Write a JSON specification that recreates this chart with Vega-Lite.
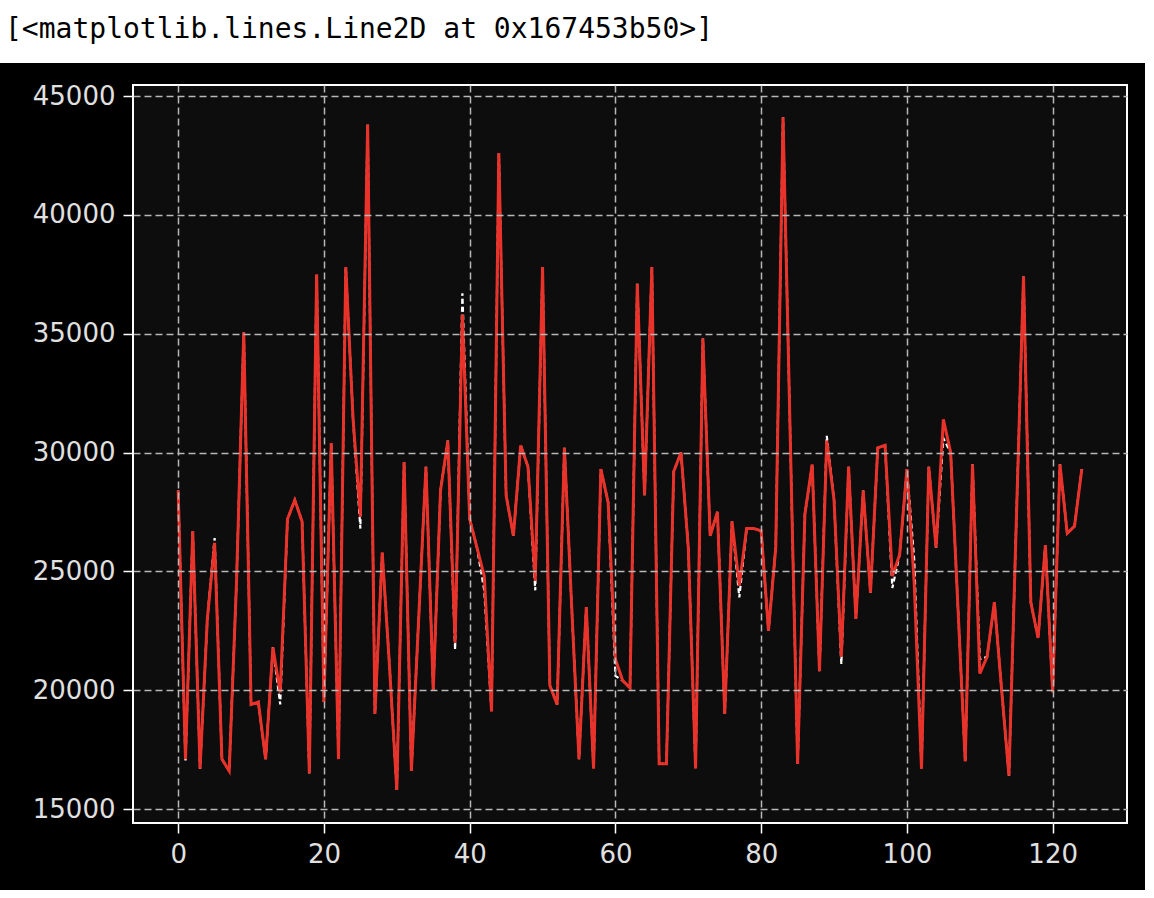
{
  "$schema": "https://vega.github.io/schema/vega-lite/v6.json",
  "autosize": {"type": "none"},
  "width": 994,
  "height": 738,
  "padding": {"left": 133, "top": 85, "right": 27, "bottom": 75},
  "background": "white",
  "title": {
    "text": "[<matplotlib.lines.Line2D at 0x167453b50>]",
    "anchor": "start",
    "frame": "group",
    "dx": -128,
    "offset": -9,
    "baseline": "bottom",
    "font": "DejaVu Sans Mono",
    "fontSize": 28,
    "fontWeight": "normal",
    "color": "black"
  },
  "config": {
    "view": {"stroke": null},
    "axis": {
      "domain": false,
      "grid": true,
      "gridColor": "#b8b8b8",
      "gridDash": [7, 4],
      "gridWidth": 1.5,
      "gridOpacity": 1,
      "tickColor": "white",
      "tickWidth": 1.5,
      "tickSize": 10,
      "labelColor": "#e0e0e0",
      "labelFont": "DejaVu Sans",
      "labelFontSize": 26,
      "labelPadding": 8
    }
  },
  "data": {
    "values": [
      {"i": 0, "actual": 28400, "pred": 28400},
      {"i": 1, "actual": 17000, "pred": 17100},
      {"i": 2, "actual": 26700, "pred": 26700},
      {"i": 3, "actual": 16700, "pred": 16700},
      {"i": 4, "actual": 23000, "pred": 23000},
      {"i": 5, "actual": 26400, "pred": 26200},
      {"i": 6, "actual": 17100, "pred": 17100},
      {"i": 7, "actual": 16600, "pred": 16600},
      {"i": 8, "actual": 24500, "pred": 24500},
      {"i": 9, "actual": 35050, "pred": 35050},
      {"i": 10, "actual": 19400, "pred": 19400},
      {"i": 11, "actual": 19500, "pred": 19500},
      {"i": 12, "actual": 17100, "pred": 17100},
      {"i": 13, "actual": 21800, "pred": 21800},
      {"i": 14, "actual": 19400, "pred": 19900},
      {"i": 15, "actual": 27200, "pred": 27200},
      {"i": 16, "actual": 28000, "pred": 28000},
      {"i": 17, "actual": 27100, "pred": 27100},
      {"i": 18, "actual": 16500, "pred": 16500},
      {"i": 19, "actual": 37500, "pred": 37500},
      {"i": 20, "actual": 19500, "pred": 19500},
      {"i": 21, "actual": 30400, "pred": 30400},
      {"i": 22, "actual": 17100, "pred": 17100},
      {"i": 23, "actual": 37800, "pred": 37800},
      {"i": 24, "actual": 31400, "pred": 31400},
      {"i": 25, "actual": 26800, "pred": 27300},
      {"i": 26, "actual": 43800, "pred": 43800},
      {"i": 27, "actual": 19000, "pred": 19000},
      {"i": 28, "actual": 25800, "pred": 25800},
      {"i": 29, "actual": 21000, "pred": 21000},
      {"i": 30, "actual": 15800, "pred": 15800},
      {"i": 31, "actual": 29600, "pred": 29600},
      {"i": 32, "actual": 16600, "pred": 16600},
      {"i": 33, "actual": 23000, "pred": 23000},
      {"i": 34, "actual": 29400, "pred": 29400},
      {"i": 35, "actual": 20000, "pred": 20000},
      {"i": 36, "actual": 28400, "pred": 28400},
      {"i": 37, "actual": 30500, "pred": 30500},
      {"i": 38, "actual": 21700, "pred": 22000},
      {"i": 39, "actual": 36700, "pred": 35800},
      {"i": 40, "actual": 27200, "pred": 27200},
      {"i": 41, "actual": 26000, "pred": 26000},
      {"i": 42, "actual": 24200, "pred": 24800},
      {"i": 43, "actual": 19100, "pred": 19100},
      {"i": 44, "actual": 42600, "pred": 42600},
      {"i": 45, "actual": 28200, "pred": 28200},
      {"i": 46, "actual": 26500, "pred": 26500},
      {"i": 47, "actual": 30300, "pred": 30300},
      {"i": 48, "actual": 29400, "pred": 29400},
      {"i": 49, "actual": 24200, "pred": 24600},
      {"i": 50, "actual": 37800, "pred": 37800},
      {"i": 51, "actual": 20200, "pred": 20200},
      {"i": 52, "actual": 19400, "pred": 19400},
      {"i": 53, "actual": 30200, "pred": 30200},
      {"i": 54, "actual": 23500, "pred": 23500},
      {"i": 55, "actual": 17100, "pred": 17100},
      {"i": 56, "actual": 23500, "pred": 23500},
      {"i": 57, "actual": 16700, "pred": 16700},
      {"i": 58, "actual": 29300, "pred": 29300},
      {"i": 59, "actual": 27900, "pred": 27900},
      {"i": 60, "actual": 20600, "pred": 21300},
      {"i": 61, "actual": 20400, "pred": 20400},
      {"i": 62, "actual": 20100, "pred": 20100},
      {"i": 63, "actual": 37100, "pred": 37100},
      {"i": 64, "actual": 28200, "pred": 28200},
      {"i": 65, "actual": 37800, "pred": 37800},
      {"i": 66, "actual": 16900, "pred": 16900},
      {"i": 67, "actual": 16900, "pred": 16900},
      {"i": 68, "actual": 29200, "pred": 29200},
      {"i": 69, "actual": 30000, "pred": 30000},
      {"i": 70, "actual": 26000, "pred": 26000},
      {"i": 71, "actual": 16700, "pred": 16700},
      {"i": 72, "actual": 34800, "pred": 34800},
      {"i": 73, "actual": 26500, "pred": 26500},
      {"i": 74, "actual": 27500, "pred": 27500},
      {"i": 75, "actual": 19000, "pred": 19000},
      {"i": 76, "actual": 27100, "pred": 27100},
      {"i": 77, "actual": 23900, "pred": 24400},
      {"i": 78, "actual": 26800, "pred": 26800},
      {"i": 79, "actual": 26800, "pred": 26800},
      {"i": 80, "actual": 26700, "pred": 26700},
      {"i": 81, "actual": 22500, "pred": 22500},
      {"i": 82, "actual": 26000, "pred": 26000},
      {"i": 83, "actual": 44100, "pred": 44100},
      {"i": 84, "actual": 30500, "pred": 30500},
      {"i": 85, "actual": 16900, "pred": 16900},
      {"i": 86, "actual": 27400, "pred": 27400},
      {"i": 87, "actual": 29500, "pred": 29500},
      {"i": 88, "actual": 20800, "pred": 20800},
      {"i": 89, "actual": 30700, "pred": 30500},
      {"i": 90, "actual": 28000, "pred": 28000},
      {"i": 91, "actual": 21100, "pred": 21400},
      {"i": 92, "actual": 29400, "pred": 29400},
      {"i": 93, "actual": 23000, "pred": 23000},
      {"i": 94, "actual": 28400, "pred": 28400},
      {"i": 95, "actual": 24100, "pred": 24100},
      {"i": 96, "actual": 30200, "pred": 30200},
      {"i": 97, "actual": 30300, "pred": 30300},
      {"i": 98, "actual": 24300, "pred": 24800},
      {"i": 99, "actual": 25700, "pred": 25700},
      {"i": 100, "actual": 29300, "pred": 29300},
      {"i": 101, "actual": 25500, "pred": 24500},
      {"i": 102, "actual": 16700, "pred": 16700},
      {"i": 103, "actual": 29400, "pred": 29400},
      {"i": 104, "actual": 26000, "pred": 26000},
      {"i": 105, "actual": 30600, "pred": 31400},
      {"i": 106, "actual": 30000, "pred": 30000},
      {"i": 107, "actual": 23500, "pred": 23500},
      {"i": 108, "actual": 17000, "pred": 17000},
      {"i": 109, "actual": 29500, "pred": 29500},
      {"i": 110, "actual": 21300, "pred": 20700},
      {"i": 111, "actual": 21400, "pred": 21400},
      {"i": 112, "actual": 23700, "pred": 23700},
      {"i": 113, "actual": 20000, "pred": 20000},
      {"i": 114, "actual": 16400, "pred": 16400},
      {"i": 115, "actual": 27000, "pred": 27000},
      {"i": 116, "actual": 37400, "pred": 37400},
      {"i": 117, "actual": 23700, "pred": 23700},
      {"i": 118, "actual": 22200, "pred": 22200},
      {"i": 119, "actual": 26100, "pred": 26100},
      {"i": 120, "actual": 19900, "pred": 19900},
      {"i": 121, "actual": 29500, "pred": 29500},
      {"i": 122, "actual": 26600, "pred": 26600},
      {"i": 123, "actual": 26900, "pred": 26900},
      {"i": 124, "actual": 29300, "pred": 29300}
    ]
  },
  "layer": [
    {
      "data": {"values": [{}]},
      "mark": {"type": "rect", "fill": "black", "clip": false},
      "encoding": {
        "x": {"datum": -24.45, "type": "quantitative"},
        "x2": {"datum": 132.67},
        "y": {"datum": 46389, "type": "quantitative"},
        "y2": {"datum": 11592}
      }
    },
    {
      "data": {"values": [{}]},
      "mark": {"type": "rect", "fill": "#0d0d0d", "stroke": "white", "strokeWidth": 2, "clip": false},
      "encoding": {
        "x": {"datum": -6.2, "type": "quantitative"},
        "x2": {"datum": 130.2},
        "y": {"datum": 45463, "type": "quantitative"},
        "y2": {"datum": 14411}
      }
    },
    {
      "mark": {"type": "line", "color": "white", "strokeWidth": 2.2, "strokeDash": [5, 3]},
      "encoding": {
        "x": {
          "field": "i",
          "type": "quantitative",
          "title": null,
          "scale": {"domain": [-6.2, 130.2], "nice": false, "zero": false},
          "axis": {"values": [0, 20, 40, 60, 80, 100, 120], "format": "d", "labelFlush": false, "zindex": 1, "title": null}
        },
        "y": {
          "field": "actual",
          "type": "quantitative",
          "title": null,
          "scale": {"domain": [14411, 45463], "nice": false, "zero": false},
          "axis": {"values": [15000, 20000, 25000, 30000, 35000, 40000, 45000], "format": "d", "labelFlush": false, "zindex": 1, "title": null}
        }
      }
    },
    {
      "mark": {"type": "line", "color": "#e8322a", "strokeWidth": 3},
      "encoding": {
        "x": {"field": "i", "type": "quantitative", "title": null},
        "y": {"field": "pred", "type": "quantitative", "title": null}
      }
    }
  ]
}
